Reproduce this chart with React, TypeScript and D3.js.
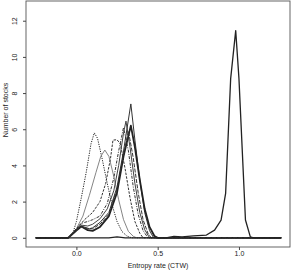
import React, { useEffect, useRef } from "react";
import * as d3 from "d3";

type Pt = [number, number];

const xTicks = [0, 0.5, 1.0];
const yTicks = [0, 2, 4, 6, 8, 10, 12];

const curveA: Pt[] = [[-0.25, 0], [-0.05, 0], [-0.02, 0.3], [0.0, 0.9], [0.03, 2.2], [0.06, 3.6], [0.09, 5.2], [0.11, 5.8], [0.13, 5.5], [0.16, 4.3], [0.19, 3.0], [0.22, 1.8], [0.25, 0.9], [0.28, 0.35], [0.31, 0.1], [0.34, 0], [1.26, 0]];
const curveB: Pt[] = [[-0.25, 0], [-0.05, 0], [0.0, 0.5], [0.04, 1.2], [0.08, 2.35], [0.12, 3.6], [0.15, 4.5], [0.175, 4.85], [0.2, 4.5], [0.23, 3.4], [0.26, 2.1], [0.29, 1.0], [0.32, 0.35], [0.35, 0.08], [0.37, 0], [1.26, 0]];
const curveC: Pt[] = [[-0.25, 0], [-0.05, 0], [0.0, 0.5], [0.05, 1.0], [0.1, 1.4], [0.145, 2.0], [0.18, 3.0], [0.21, 4.4], [0.225, 5.4], [0.25, 5.42], [0.27, 5.2], [0.3, 3.8], [0.33, 2.2], [0.36, 0.9], [0.39, 0.25], [0.41, 0], [1.26, 0]];
const curveD: Pt[] = [[-0.25, 0], [-0.05, 0], [0.0, 0.5], [0.03, 0.8], [0.07, 0.9], [0.1, 1.0], [0.145, 1.2], [0.19, 1.9], [0.23, 3.3], [0.26, 4.8], [0.29, 6.1], [0.32, 4.8], [0.35, 2.8], [0.38, 1.3], [0.41, 0.4], [0.44, 0], [1.26, 0]];
const curveE: Pt[] = [[-0.25, 0], [-0.05, 0], [0.0, 0.45], [0.03, 0.7], [0.07, 0.65], [0.1, 0.75], [0.145, 1.05], [0.19, 1.6], [0.23, 2.6], [0.26, 4.0], [0.29, 5.8], [0.305, 6.45], [0.33, 5.0], [0.36, 3.0], [0.39, 1.4], [0.42, 0.45], [0.45, 0], [1.26, 0]];
const curveF: Pt[] = [[-0.25, 0], [-0.05, 0], [0.0, 0.45], [0.03, 0.65], [0.08, 0.5], [0.1, 0.55], [0.145, 0.85], [0.2, 1.4], [0.25, 2.8], [0.29, 4.8], [0.335, 7.4], [0.36, 5.4], [0.39, 3.2], [0.42, 1.4], [0.45, 0.4], [0.475, 0], [1.26, 0]];
const curveG: Pt[] = [[-0.25, 0], [-0.05, 0], [0.0, 0.4], [0.03, 0.62], [0.07, 0.42], [0.1, 0.38], [0.145, 0.6], [0.2, 1.2], [0.25, 2.5], [0.29, 4.5], [0.335, 6.2], [0.36, 5.0], [0.39, 3.2], [0.42, 1.6], [0.45, 0.6], [0.48, 0.1], [0.5, 0], [1.26, 0]];
const curveH: Pt[] = [[-0.25, 0], [-0.05, 0], [0.0, 0.42], [0.03, 0.6], [0.07, 0.5], [0.1, 0.5], [0.145, 0.75], [0.2, 1.3], [0.25, 2.7], [0.29, 4.6], [0.32, 5.9], [0.35, 4.4], [0.38, 2.5], [0.41, 1.0], [0.44, 0.25], [0.46, 0], [1.26, 0]];
const curveI: Pt[] = [[-0.25, 0], [0.2, 0], [0.25, 0.05], [0.3, 0], [0.55, 0], [0.6, 0.08], [0.65, 0.05], [0.72, 0.1], [0.8, 0.15], [0.85, 0.42], [0.89, 0.98], [0.918, 2.45], [0.949, 8.8], [0.98, 11.45], [1.0, 8.8], [1.04, 0.98], [1.07, 0.05], [1.09, 0], [1.26, 0]];

const series = [
  { name: "a", data: curveA, dash: "1.2,1.2", color: "#222", width: 1 },
  { name: "b", data: curveB, dash: "", color: "#777", width: 0.9 },
  { name: "c", data: curveC, dash: "2.5,1.3", color: "#333", width: 1 },
  { name: "d", data: curveD, dash: "1,1.3,3,1.3", color: "#333", width: 1 },
  { name: "e", data: curveE, dash: "", color: "#444", width: 1 },
  { name: "f", data: curveF, dash: "", color: "#333", width: 1 },
  { name: "g", data: curveG, dash: "", color: "#222", width: 1.8 },
  { name: "h", data: curveH, dash: "4,1.3", color: "#333", width: 1 },
  { name: "i", data: curveI, dash: "", color: "#222", width: 1.3 },
];

const W = 291;
const H = 272;

export default function App() {
  const svgRef = useRef<SVGSVGElement>(null);

  useEffect(() => {
    if (!svgRef.current) return;
    const svg = d3.select(svgRef.current);
    svg.selectAll("*").remove();

    const left = 26;
    const right = 290;
    const top = 1;
    const bottom = 247;

    const x = d3.scaleLinear().domain([-0.31, 1.314]).range([left, right]);
    const y = d3.scaleLinear().domain([-0.51, 13.09]).range([bottom, top]);

    const font = "'Liberation Sans', Arial, sans-serif";

    const line = d3
      .line<Pt>()
      .x((d) => x(d[0]))
      .y((d) => y(d[1]));

    svg
      .append("g")
      .selectAll("path")
      .data(series)
      .join("path")
      .attr("fill", "none")
      .attr("stroke", (d) => d.color)
      .attr("stroke-width", (d) => d.width)
      .attr("stroke-dasharray", (d) => d.dash || null)
      .attr("stroke-linejoin", "round")
      .attr("d", (d) => line(d.data) || "");

    // box
    svg
      .append("rect")
      .attr("x", left)
      .attr("y", top)
      .attr("width", right - left)
      .attr("height", bottom - top)
      .attr("fill", "none")
      .attr("stroke", "#555")
      .attr("stroke-width", 0.9);

    // x axis
    const gx = svg.append("g").attr("transform", `translate(0,${bottom})`);
    gx.call(d3.axisBottom(x).tickValues(xTicks).tickSize(3).tickFormat(d3.format(".1f")) as any);
    gx.select(".domain").remove();
    gx.selectAll("line").attr("stroke", "#444");
    gx.selectAll("text")
      .attr("font-family", font)
      .attr("font-size", 7)
      .attr("fill", "#222")
      .attr("dy", "0.71em")
      .attr("y", 4);

    // y axis
    const gy = svg.append("g").attr("transform", `translate(${left},0)`);
    gy.call(d3.axisLeft(y).tickValues(yTicks).tickSize(3) as any);
    gy.select(".domain").remove();
    gy.selectAll("line").attr("stroke", "#444");
    gy.selectAll<SVGTextElement, number>("text")
      .attr("font-family", font)
      .attr("font-size", 7)
      .attr("fill", "#222")
      .attr("x", null)
      .attr("dy", null)
      .attr("text-anchor", "middle")
      .attr("transform", "translate(-12,0) rotate(-90)")
      .attr("y", 0)
      .attr("dominant-baseline", "central");

    svg
      .append("text")
      .attr("x", (left + right) / 2)
      .attr("y", 268)
      .attr("text-anchor", "middle")
      .attr("font-family", font)
      .attr("font-size", 7)
      .attr("fill", "#222")
      .text("Entropy rate (CTW)");

    svg
      .append("text")
      .attr("transform", `translate(8,110) rotate(-90)`)
      .attr("text-anchor", "middle")
      .attr("font-family", font)
      .attr("font-size", 7)
      .attr("fill", "#222")
      .text("Number of stocks");
  }, []);

  return (
    <svg
      ref={svgRef}
      width={W}
      height={H}
      style={{ position: "absolute", left: 0, top: 0, background: "#fff" }}
    />
  );
}
